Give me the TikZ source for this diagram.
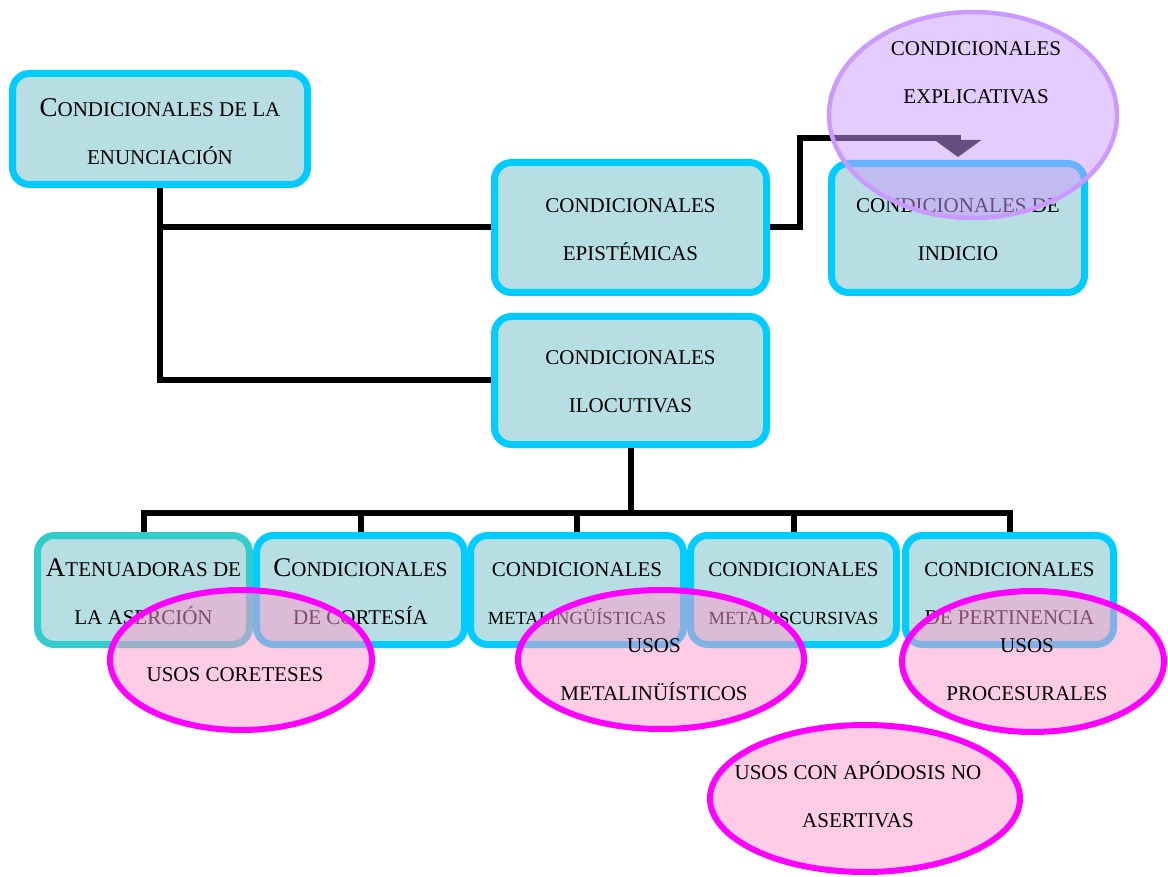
\documentclass[tikz,border=0pt]{standalone}
\usepackage{fontspec}
\setmainfont{Liberation Serif}
\usetikzlibrary{shapes.geometric,arrows.meta}

\definecolor{boxfill}{RGB}{183,222,226}
\definecolor{boxline}{RGB}{0,204,255}
\definecolor{boxlinealt}{RGB}{51,204,204}
\definecolor{lilac}{RGB}{204,153,255}
\definecolor{rosefill}{RGB}{255,153,204}
\definecolor{magentaline}{RGB}{255,0,255}

% invisible strut fixing the height of a first line
\newcommand{\lnstrut}[1]{\rule{0pt}{#1pt}}
% enlarged initial of a small-caps heading
\newcommand{\bigsc}[1]{{\fontsize{27}{48}\selectfont #1}}

\tikzset{
  catbox/.style={draw=boxline, fill=boxfill, line width=7pt, rounded corners=17pt,
    inner sep=0pt, align=center, text=black},
  conn/.style={draw=black, line width=6pt},
  pinkell/.style={ellipse, draw=magentaline, line width=6pt, fill=rosefill,
    fill opacity=0.5, draw opacity=1, inner sep=0pt},
  lilacell/.style={ellipse, draw=lilac, line width=4.5pt, fill=lilac,
    fill opacity=0.5, draw opacity=1, inner sep=0pt},
  ellabel/.style={align=center, inner sep=0pt, text=black}
}

\begin{document}
\begin{tikzpicture}[x=1pt, y=-1pt, font=\fontsize{21}{48}\selectfont]
\useasboundingbox (0,0) rectangle (1168,877);

% ---- category boxes ----
\node[catbox, minimum width=295pt, minimum height=111pt] (enun) at (160,129)
  {\lnstrut{24}\bigsc{C}ONDICIONALES DE LA\\ENUNCIACIÓN};
\node[catbox, minimum width=272pt, minimum height=130pt] (epi) at (630.5,227.5)
  {\lnstrut{18}CONDICIONALES\\EPISTÉMICAS};
\node[catbox, minimum width=253pt, minimum height=129pt] (ind) at (958,228)
  {\lnstrut{17}CONDICIONALES DE\\INDICIO};
\node[catbox, minimum width=272pt, minimum height=128pt] (ilo) at (630.5,380.5)
  {\lnstrut{17}CONDICIONALES\\ILOCUTIVAS};

\node[catbox, draw=boxlinealt, minimum width=212pt, minimum height=109pt] (aten) at (143.5,590)
  {\lnstrut{21}\bigsc{A}TENUADORAS DE\\LA ASERCIÓN};
\node[catbox, minimum width=208pt, minimum height=109pt] (cort) at (360.5,590)
  {\lnstrut{21}\bigsc{C}ONDICIONALES\\DE CORTESÍA};
\node[catbox, minimum width=213pt, minimum height=109pt] (meta) at (577,590)
  {\lnstrut{21}CONDICIONALES\\{\fontsize{18.5}{48}\selectfont METALINGÜÍSTICAS}};
\node[catbox, minimum width=206pt, minimum height=109pt] (disc) at (793.5,590)
  {\lnstrut{21}CONDICIONALES\\{\fontsize{18.5}{48}\selectfont METADISCURSIVAS}};
\node[catbox, minimum width=208pt, minimum height=109pt] (pert) at (1009.5,590)
  {\lnstrut{21}CONDICIONALES\\DE PERTINENCIA};

% ---- connectors ----
\draw[conn] (enun.south) -- (enun.south |- ilo.west) -- (ilo.west);
\draw[conn] (enun.south |- epi.west) -- (epi.west);

\coordinate (elbow) at (800,138);
\draw[conn, shorten >=3pt, -{Triangle[width=46pt,length=17pt]}]
  (epi.east) -| (elbow) -| (ind.north);

\coordinate (bus) at (630.5,513);
\draw[conn] (ilo.south) -- (bus);
\foreach \b in {aten,cort,meta,disc,pert}
  \draw[conn] (bus) -| (\b.north);

% ---- overlaid ellipses ----
\node[lilacell, minimum width=288pt, minimum height=206pt] (explE) at (973,115) {};
\node[pinkell, minimum width=262pt, minimum height=140pt] (cortE) at (241,660) {};
\node[pinkell, minimum width=286pt, minimum height=139pt] (metaE) at (661,659.5) {};
\node[pinkell, minimum width=262pt, minimum height=141pt] (procE) at (1033,661.5) {};
\node[pinkell, minimum width=310pt, minimum height=147pt] (apoE) at (865,798.5) {};

\node[ellabel] (explT) at (976,72.5) {CONDICIONALES\\EXPLICATIVAS};
\node[ellabel] (cortT) at (235,675) {USOS CORETESES};
\node[ellabel] (metaT) at (654,670) {USOS\\METALINÜÍSTICOS};
\node[ellabel] (procT) at (1027,670) {USOS\\PROCESURALES};
\node[ellabel] (apoT) at (858,795) {USOS CON APÓDOSIS NO\\ASERTIVAS};
\end{tikzpicture}
\end{document}
